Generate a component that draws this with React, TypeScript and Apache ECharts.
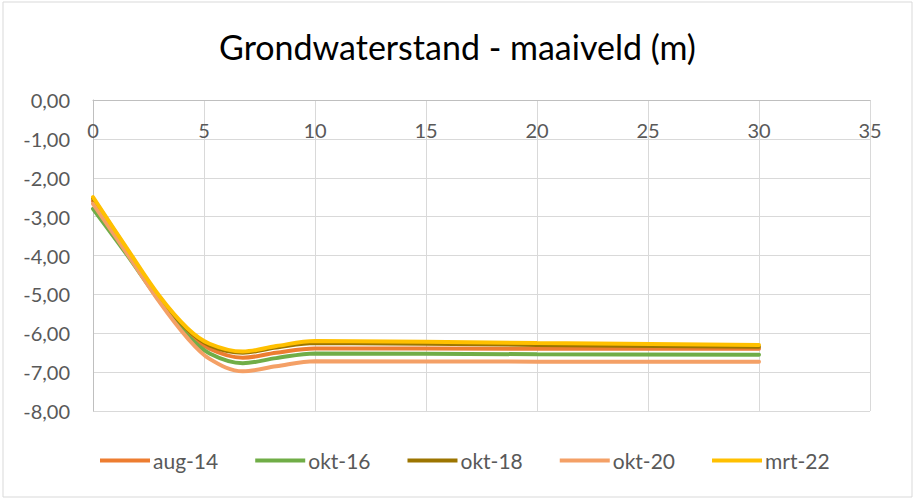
import React, { useEffect, useRef } from "react";
import * as echarts from "echarts";

const title = "Grondwaterstand - maaiveld (m)";
const xs = [0, 1.5, 3, 4.25, 5.25, 6.75, 8.25, 10, 20, 30];
const seriesNames = ["aug-14", "okt-16", "okt-18", "okt-20", "mrt-22"];
const aug14 = [-2.6, -3.86, -5.11, -5.96, -6.4, -6.63, -6.5, -6.39, -6.4, -6.4];
const okt16 = [-2.8, -3.96, -5.17, -6.05, -6.52, -6.77, -6.64, -6.52, -6.54, -6.55];
const okt18 = [-2.53, -3.82, -5.08, -5.9, -6.31, -6.5, -6.37, -6.25, -6.3, -6.35];
const okt20 = [-2.67, -3.92, -5.2, -6.12, -6.66, -6.98, -6.85, -6.72, -6.73, -6.73];
const mrt22 = [-2.5, -3.79, -5.05, -5.87, -6.27, -6.47, -6.33, -6.2, -6.25, -6.3];
const values = [aug14, okt16, okt18, okt20, mrt22];
const colors = ["#ED7D31", "#70AD47", "#9C7500", "#F4A066", "#FFC000"];

export default function App() {
  const ref = useRef<HTMLDivElement>(null);
  useEffect(() => {
    if (!ref.current) return;
    const chart = echarts.init(ref.current, undefined, { renderer: "svg" });
    const font = "Lato, 'Open Sans', sans-serif";
    chart.setOption({
      animation: false,
      backgroundColor: "#ffffff",
      title: {
        text: title,
        left: "center",
        top: 24,
        textStyle: { fontFamily: font, fontSize: 34, fontWeight: "normal", color: "#000000" },
      },
      graphic: [
        {
          type: "rect",
          shape: { x: 3, y: 2, width: 909, height: 495 },
          style: { fill: "none", stroke: "#D9D9D9", lineWidth: 1 },
          silent: true,
        },
      ],
      grid: { left: 93, right: 45, top: 100, bottom: 89, containLabel: false },
      legend: {
        bottom: 24,
        left: 95,
        itemWidth: 50,
        itemHeight: 4,
        itemGap: 37,
        icon: "rect",
        textStyle: { fontFamily: font, fontSize: 21, color: "#595959", padding: [0, 0, 0, -2] },
        data: seriesNames,
      },
      xAxis: {
        type: "value",
        position: "top",
        min: 0,
        max: 35,
        interval: 5,
        axisLine: { show: true, onZero: false, lineStyle: { color: "#BFBFBF", width: 1 } },
        axisTick: { show: false },
        axisLabel: { inside: true, margin: 20, fontFamily: font, fontSize: 20, color: "#595959" },
        splitLine: { show: true, lineStyle: { color: "#D9D9D9", width: 1 } },
      },
      yAxis: {
        type: "value",
        min: -8,
        max: 0,
        interval: 1,
        axisLine: { show: true, lineStyle: { color: "#BFBFBF", width: 1 } },
        axisTick: { show: false },
        axisLabel: {
          margin: 23,
          fontFamily: font,
          fontSize: 20,
          color: "#595959",
          formatter: (v: number) => v.toFixed(2).replace(".", ","),
        },
        splitLine: { show: true, lineStyle: { color: "#D9D9D9", width: 1 } },
      },
      series: seriesNames.map((name, i) => ({
        name,
        type: "line",
        smooth: 0.35,
        symbol: "none",
        color: colors[i],
        lineStyle: { width: 4, color: colors[i], cap: "round" },
        data: xs.map((x, j) => [x, values[i][j]]),
      })),
    });
    return () => chart.dispose();
  }, []);
  return (
    <div
      ref={ref}
      style={{ position: "fixed", left: 0, top: 0, width: 915, height: 500 }}
    />
  );
}
